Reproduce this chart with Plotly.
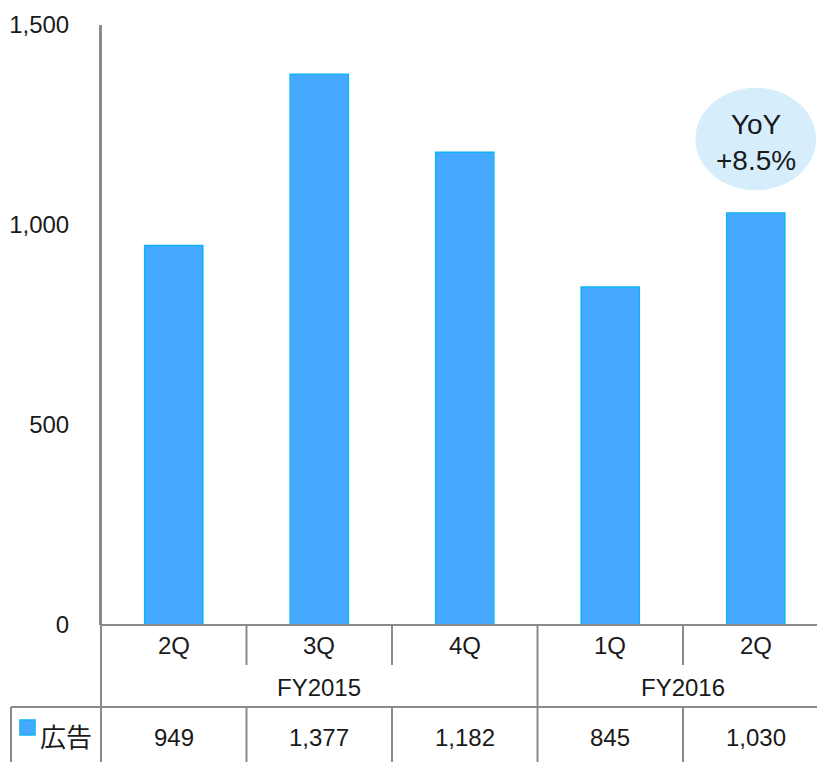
import plotly.graph_objects as go

quarters = ["2Q", "3Q", "4Q", "1Q", "2Q"]
fiscal_years = ["FY2015", "FY2015", "FY2015", "FY2016", "FY2016"]
ad_revenue = [949, 1377, 1182, 845, 1030]
series_name = "広告"
yoy_text = "YoY<br>+8.5%"
y_ticks = [0, 500, 1000, 1500]

FONT = "Liberation Sans, Arial, Noto Sans CJK JP, sans-serif"
CJK = "Noto Sans CJK JP, sans-serif"
GRAY = "#8a8a8a"
BAR = "#45a9ff"
BAR_EDGE = "#12b4f0"
TXT = "#1a1a1a"

# page offset (body margin) = 8 px
OFF = 8
PLOT_L, PLOT_T, PLOT_B = 101, 25, 625
W, H = 825 - OFF, 762 - OFF
PLOT_W = W - (PLOT_L - OFF)

def ypx(p):
    return (PLOT_B - p) / float(PLOT_B - PLOT_T)

def xpx(p):
    return (p - PLOT_L) / float(PLOT_W)

xs = list(range(len(quarters)))

fig = go.Figure()
fig.add_trace(go.Bar(
    x=xs, y=ad_revenue, width=0.4, name=series_name,
    marker=dict(color=BAR, line=dict(color=BAR_EDGE, width=1.5)),
    showlegend=False, hoverinfo="skip",
))

shapes = []
annotations = []
line = dict(color=GRAY, width=2)

shapes.append(dict(type="line", xref="paper", yref="paper", x0=0, x1=1.01, y0=0, y1=0, line=line, layer="above"))
shapes.append(dict(type="line", xref="paper", yref="paper", x0=0, x1=0, y0=1, y1=ypx(770), line=line))
n = len(quarters)
for i in range(1, n):
    b = i - 0.5
    if fiscal_years[i] != fiscal_years[i - 1]:
        shapes.append(dict(type="line", xref="x", yref="paper", x0=b, x1=b, y0=0, y1=ypx(770), line=line))
    else:
        shapes.append(dict(type="line", xref="x", yref="paper", x0=b, x1=b, y0=0, y1=ypx(665), line=line))
        shapes.append(dict(type="line", xref="x", yref="paper", x0=b, x1=b, y0=ypx(707), y1=ypx(770), line=line))
shapes.append(dict(type="line", xref="paper", yref="paper", x0=xpx(11), x1=1.01, y0=ypx(707), y1=ypx(707), line=line))
shapes.append(dict(type="line", xref="paper", yref="paper", x0=xpx(11), x1=xpx(11), y0=ypx(707), y1=ypx(770), line=line))

# YoY bubble
shapes.append(dict(type="circle", xref="x", yref="y", x0=4 - 0.415, x1=4 + 0.415, y0=1087, y1=1343,
                   fillcolor="#d6eefc", line=dict(width=0), layer="below"))
annotations.append(dict(x=4, y=1207, xref="x", yref="y", text=yoy_text, showarrow=False,
                        yanchor="middle", font=dict(family=FONT, size=28, color=TXT), align="center"))

for i, q in enumerate(quarters):
    annotations.append(dict(x=i, y=ypx(645), xref="x", yref="paper", text=q, showarrow=False, yanchor="middle",
                            font=dict(family=FONT, size=24, color=TXT)))
    annotations.append(dict(x=i, y=ypx(737), xref="x", yref="paper", text=f"{ad_revenue[i]:,}", showarrow=False,
                            yanchor="middle", font=dict(family=FONT, size=24, color=TXT)))
groups = []
for i, fy in enumerate(fiscal_years):
    if groups and groups[-1][0] == fy:
        groups[-1][2] = i
    else:
        groups.append([fy, i, i])
for fy, a, b in groups:
    annotations.append(dict(x=(a + b) / 2, y=ypx(687), xref="x", yref="paper", text=fy, showarrow=False,
                            yanchor="middle", font=dict(family=FONT, size=24, color=TXT)))

# legend key inside table
shapes.append(dict(type="rect", xref="paper", yref="paper", x0=xpx(20), x1=xpx(35), y0=ypx(735), y1=ypx(720),
                   fillcolor=BAR, line=dict(color=BAR_EDGE, width=1.5)))
annotations.append(dict(x=xpx(38), y=ypx(735), xref="paper", yref="paper", text=series_name,
                        showarrow=False, xanchor="left", yanchor="middle",
                        font=dict(family=CJK, size=26, color=TXT)))

fig.update_layout(
    width=W, height=H,
    margin=dict(l=PLOT_L - OFF, r=0, t=PLOT_T - OFF, b=H - (PLOT_B - OFF)),
    plot_bgcolor="white", paper_bgcolor="white",
    font=dict(family=FONT, size=24, color=TXT),
    shapes=shapes, annotations=annotations,
    xaxis=dict(range=[-0.5, -0.5 + PLOT_W / 145.5], showticklabels=False, showgrid=False, zeroline=False,
               showline=False, ticks=""),
    yaxis=dict(range=[0, 1500], tickvals=y_ticks, tickformat=",", showgrid=False, zeroline=False,
               showline=True, linecolor=GRAY, linewidth=2, ticks="", ticklabelstandoff=25,
               tickfont=dict(family=FONT, size=24, color=TXT)),
)

fig.write_html("out.html")
